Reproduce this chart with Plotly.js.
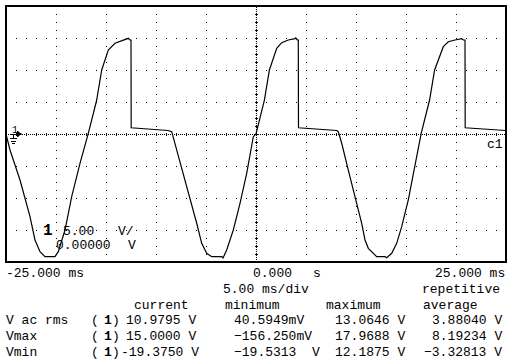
<!DOCTYPE html>
<html><head><meta charset="utf-8">
<script src="https://cdn.plot.ly/plotly-3.0.1.min.js"></script>
<style>
html,body{margin:0;padding:0;background:#fff}
#chart{width:510px;height:360px}
.shapelayer path{shape-rendering:crispEdges}
</style>
</head><body><div id="chart"></div>
<script>
// ---- trace data (time in ms, voltage in V) ----
const timeMs = [-24.95,-24.6,-23.6,-22.6,-22.1,-21.6,-21.1,-20.1,-19.77,-19.1,-18.43,-17.6,-16.77,
  -15.93,-15.43,-14.77,-14.1,-13.43,-12.77,-12.6,-12.5,-12.48,-11.1,-9.77,-8.8,-8.43,
  -7.93,-7.27,-6.6,-5.93,-5.43,-4.93,-4.43,-3.43,-3.3,-2.93,-2.27,-1.6,-0.93,-0.27,0,
  0.84,1.34,2.07,2.57,3.23,3.9,3.97,4.13,4.23,4.25,5.6,6.9,8.07,8.23,
  8.57,9.23,9.9,10.57,10.9,11.23,12.07,12.9,13.07,13.57,14.07,14.57,15.23,15.9,16.52,
  17.36,17.86,18.73,19.23,19.9,20.57,20.73,20.9,20.92,22.2,23.5,24.95];
const volts = [-0.31,-2.5,-7.19,-12.92,-16.56,-18.39,-19.17,-19.17,-18.39,-15.0,-9.8,-4.58,0.11,
  5.31,10.0,13.13,14.17,14.58,14.95,14.69,14.69,0.98,0.86,0.63,0.55,0.36,
  -2.5,-6.14,-9.8,-13.95,-17.08,-18.64,-19.17,-19.17,-19.38,-18.13,-15.0,-10.83,-6.14,-0.42,0,
  5.31,10.0,13.39,14.27,14.69,14.89,15.0,14.69,14.69,0.98,0.86,0.63,0.55,0.36,
  -1.45,-5.63,-9.8,-13.95,-16.56,-17.86,-19.17,-19.17,-19.33,-18.64,-17.08,-14.48,-10.31,-5.11,0.1,
  5.31,10.0,13.64,14.42,14.69,14.89,14.69,14.69,0.98,0.86,0.63,0.55];

// ---- readout texts ----
const xTickLabels = ['-25.000 ms', '0.000', 's', '25.000 ms'];
const scaleLabels = ['5.00 ms/div', 'repetitive'];
const columnHeads = ['current', 'minimum', 'maximum', 'average'];
const rowLabels = ['V ac rms', 'Vmax', 'Vmin'];
const currentVals = ['10.9795 V', '15.0000 V', '-19.3750 V'];
const minimumVals = ['40.5949mV', '\u2212156.250mV', '\u221219.5313  V'];
const maximumVals = ['13.0646 V', '17.9688 V', '12.1875 V'];
const averageVals = ['3.88040 V', '8.19234 V', '\u22123.32813 V'];
const channelLabels = ['5.00', 'V/', '0.00000', 'V', 'c1'];

const FONT = '"Liberation Mono", "DejaVu Sans Mono", monospace';
const L = 6, T = 6, W = 500, H = 256;
const px = x => (x - L) / W;
const py = y => 1 - (y - T) / H;

function label(text, x, base, opt) {
  opt = opt || {};
  const size = opt.size || 13;
  return {text: text, xref: 'paper', yref: 'paper', x: px(x), y: py(base - size * 0.27),
    xanchor: opt.anchor || 'left', yanchor: 'middle', showarrow: false, borderpad: 0,
    font: {family: FONT, size: size, color: '#000'}};
}

const ann = [];
ann.push(label(xTickLabels[0], 5, 277));
ann.push(label(xTickLabels[1], 252, 277));
ann.push(label(xTickLabels[2], 312, 277));
ann.push(label(xTickLabels[3], 506, 277, {anchor: 'right'}));
ann.push(label(scaleLabels[0], 222, 293));
ann.push(label(scaleLabels[1], 421, 293));
const headX = [133, 224, 325, 422];
columnHeads.forEach((h, i) => ann.push(label(h, headX[i], 309)));
const rowBase = [324, 340, 356];
rowLabels.forEach((r, i) => {
  const b = rowBase[i];
  const neg = currentVals[i].charAt(0) === '-';
  ann.push(label(r, 5, b));
  ann.push(label('(', 90, b));
  ann.push(label('<b>1</b>', 103, b));
  ann.push(label(')', 111, b));
  ann.push(label(currentVals[i], neg ? 119.5 : 125, b));
  ann.push(label(minimumVals[i], 233, b));
  ann.push(label(maximumVals[i], 334, b));
  ann.push(label(averageVals[i], 503, b, {anchor: 'right'}));
});
ann.push(label('<b>1</b>', 42, 235, {size: 16}));
ann.push(label(channelLabels[0], 62, 235));
ann.push(label(channelLabels[1], 117, 235));
ann.push(label(channelLabels[2], 55, 249));
ann.push(label(channelLabels[3], 127, 249));
ann.push(label(channelLabels[4], 486, 148));
ann.push(label('1', 11, 133, {size: 10}));

function seg(x0, y0, x1, y1, w) {
  return {type: 'line', xref: 'paper', yref: 'paper', x0: px(x0), y0: py(y0), x1: px(x1), y1: py(y1),
    line: {color: '#000', width: w || 1}};
}
const shapes = [
  {type: 'line', xref: 'paper', yref: 'y', x0: 0, x1: 1, y0: 0, y1: 0, line: {color: '#000', width: 1, dash: '1px,1px'}, layer: 'below'},
  {type: 'line', xref: 'x', yref: 'paper', x0: 0, x1: 0, y0: 0, y1: 1, line: {color: '#000', width: 1, dash: '1px,1px'}, layer: 'below'},
  {type: 'rect', xref: 'paper', yref: 'paper', x0: 0, x1: 1, y0: 0, y1: 1, line: {color: '#000', width: 2}},
  seg(11, 134, 17, 134),
  {type: 'path', xref: 'paper', yref: 'paper',
   path: 'M' + px(17) + ',' + py(131) + ' L' + px(21.5) + ',' + py(134) + ' L' + px(17) + ',' + py(137) + ' Z',
   fillcolor: '#000', line: {color: '#000', width: 0.5}},
  seg(13, 134, 13, 138.5),
  seg(10, 138.5, 17, 138.5),
  seg(11, 141, 16, 141),
  seg(12, 143.5, 15, 143.5)
];

const tickAxis = (extra) => Object.assign({showticklabels: false, showgrid: false, zeroline: false,
  showline: false, tickcolor: '#000', ticklen: 1, tickwidth: 1, anchor: 'free', position: 0.5, fixedrange: true}, extra);

const data = [
  {x: timeMs, y: volts, type: 'scatter', mode: 'lines', line: {color: '#000', width: 1.2}, hoverinfo: 'skip'},
  {x: [null], y: [null], xaxis: 'x2', yaxis: 'y', type: 'scatter', mode: 'lines', hoverinfo: 'skip'},
  {x: [null], y: [null], xaxis: 'x3', yaxis: 'y', type: 'scatter', mode: 'lines', hoverinfo: 'skip'},
  {x: [null], y: [null], xaxis: 'x', yaxis: 'y2', type: 'scatter', mode: 'lines', hoverinfo: 'skip'},
  {x: [null], y: [null], xaxis: 'x', yaxis: 'y3', type: 'scatter', mode: 'lines', hoverinfo: 'skip'}
];

const layout = {
  width: 510, height: 360,
  margin: {l: L, r: 510 - L - W, t: T, b: 360 - T - H, pad: 0},
  paper_bgcolor: '#fff', plot_bgcolor: '#fff', showlegend: false,
  xaxis: {range: [-25, 25], tick0: -25, dtick: 5, showgrid: true, gridcolor: '#000', gridwidth: 1,
    griddash: '1px,7px', zeroline: false, showticklabels: false, ticks: '', showline: false, fixedrange: true},
  yaxis: {range: [-20, 20], tick0: -20, dtick: 5, showgrid: true, gridcolor: '#000', gridwidth: 1,
    griddash: '1px,9px', zeroline: false, showticklabels: false, ticks: '', showline: false, fixedrange: true},
  xaxis2: tickAxis({overlaying: 'x', range: [-25, 25], tick0: 0, dtick: 1, ticks: 'outside'}),
  xaxis3: tickAxis({overlaying: 'x', range: [-25, 25], tick0: 0, dtick: 1, ticks: 'inside'}),
  yaxis2: tickAxis({overlaying: 'y', range: [-20, 20], tick0: 0, dtick: 1.25, ticks: 'outside'}),
  yaxis3: tickAxis({overlaying: 'y', range: [-20, 20], tick0: 0, dtick: 1.25, ticks: 'inside'}),
  shapes: shapes,
  annotations: ann
};

Plotly.newPlot('chart', data, layout, {displayModeBar: false, staticPlot: true});
</script>
</body></html>
